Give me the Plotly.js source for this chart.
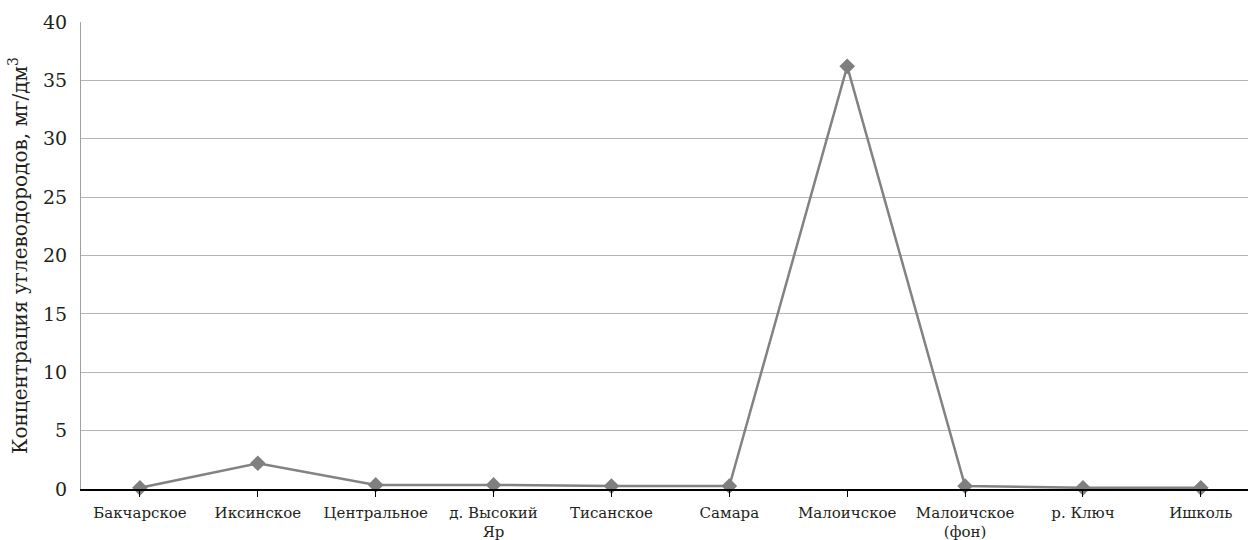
<!DOCTYPE html>
<html><head><meta charset="utf-8">
<script src="https://cdn.plot.ly/plotly-3.0.1.min.js"></script>
<style>html,body{margin:0;padding:0;background:#fff;overflow:hidden}#c{width:1248px;height:540px}</style>
</head><body><div id="c"></div>
<script>
const categories = ["Бакчарское","Иксинское","Центральное","д. Высокий<br>Яр","Тисанское","Самара","Малоичское","Малоичское<br>(фон)","р. Ключ","Ишколь"];
const values = [0.1, 2.2, 0.35, 0.35, 0.25, 0.25, 36.2, 0.25, 0.1, 0.1];
const yTicks = [0,5,10,15,20,25,30,35,40];

const idx = categories.map((_, i) => i);
Plotly.newPlot('c', [{
  x: idx, y: values, type: 'scatter', mode: 'lines+markers',
  line: {color: '#828282', width: 2.5},
  marker: {symbol: 'diamond', size: 12, color: '#7f7f7f'},
  cliponaxis: false
}], {
  width: 1248, height: 540,
  margin: {l: 81, r: 0, t: 22, b: 51},
  paper_bgcolor: '#fff', plot_bgcolor: '#fff',
  showlegend: false,
  font: {family: '"DejaVu Serif", "Liberation Serif", serif', color: '#231f20'},
  xaxis: {
    range: [-0.5, 9.4], tickmode: 'array', tickvals: idx, ticktext: categories,
    ticks: 'outside', ticklen: 6, tickcolor: '#000', tickwidth: 1,
    showline: true, linecolor: '#000', linewidth: 1.5,
    showgrid: false, zeroline: false, ticklabelstandoff: 3,
    tickfont: {size: 15, color: '#231f20'}, tickangle: 0
  },
  yaxis: {
    range: [0, 40], tickmode: 'array', tickvals: yTicks,
    showgrid: true, gridcolor: '#b4b4b4', gridwidth: 1,
    showline: true, linecolor: '#a0a0a0', linewidth: 1,
    zeroline: false, ticks: '', ticklabelstandoff: 9,
    tickfont: {size: 19, color: '#231f20'},
    title: {text: 'Концентрация углеводородов, мг/дм<sup>3</sup>', font: {size: 20, color: '#231f20'}, standoff: 10}
  }
}, {displayModeBar: false, staticPlot: true});
</script></body></html>
